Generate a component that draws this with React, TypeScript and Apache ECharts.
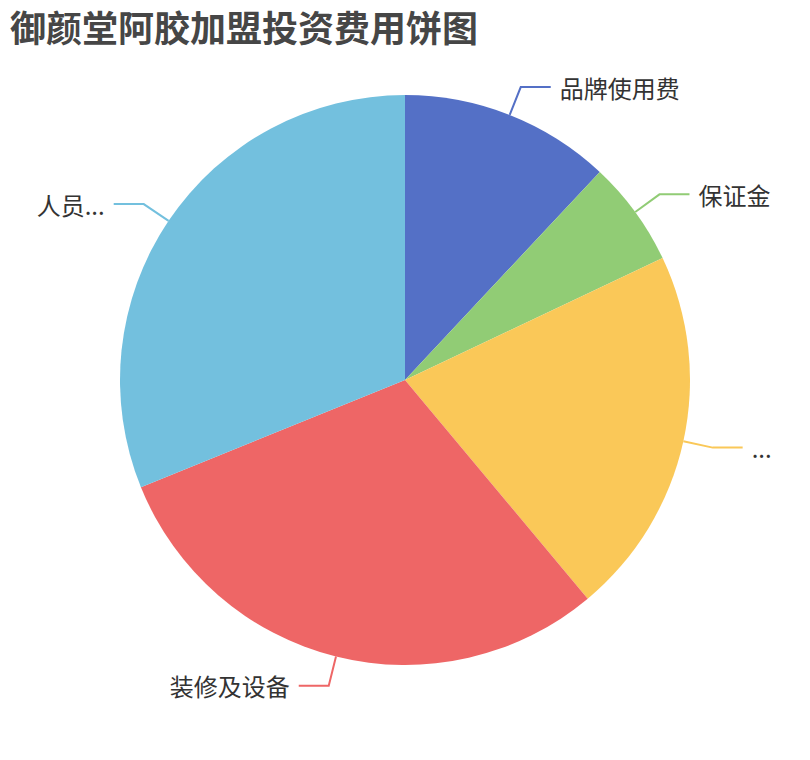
import React, { useEffect, useRef } from "react";
import * as echarts from "echarts";

const titleText = "御颜堂阿胶加盟投资费用饼图";
const categories = ["品牌使用费", "保证金", "店铺租金及首批货款", "装修及设备", "人员培训及工资"];
const values = [4, 2, 7, 10, 10.4];
const colors = ["#5470c6", "#91cc75", "#fac858", "#ee6666", "#73c0de"];

export default function App() {
  const ref = useRef<HTMLDivElement>(null);
  useEffect(() => {
    if (!ref.current) return;
    const chart = echarts.init(ref.current, undefined, { renderer: "svg" });
    chart.setOption({
      animation: false,
      color: colors,
      title: {
        text: titleText,
        left: 0,
        top: 0,
        padding: [0, 2],
        textStyle: {
          fontSize: 36,
          fontWeight: "bold",
          color: "#464646",
          fontFamily: "Noto Sans CJK SC",
        },
      },
      series: [
        {
          type: "pie",
          center: ["50%", "50%"],
          radius: 285,
          data: categories.map((name, i) => ({ name, value: values[i] })),
          label: {
            fontSize: 24,
            color: "#333",
            fontFamily: "Noto Sans CJK SC",
            distanceToLabelLine: 9,
          },
          labelLine: { length: 30, length2: 30, lineStyle: { width: 2 } },
        },
      ],
    });
    return () => chart.dispose();
  }, []);
  return <div ref={ref} style={{ width: 794, height: 744 }} />;
}
